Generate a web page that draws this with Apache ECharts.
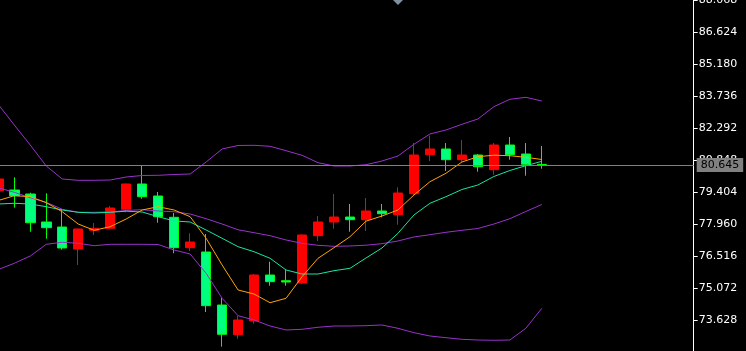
<!DOCTYPE html>
<html>
<head>
<meta charset="utf-8">
<script src="https://cdn.jsdelivr.net/npm/echarts@6/dist/echarts.min.js"></script>
<style>
html,body{margin:0;padding:0;background:#000;}
#chart{width:746px;height:351px;}
</style>
</head>
<body>
<div id="chart"></div>
<script>
// ---- data ----
const categories = ['1','2','3','4','5','6','7','8','9','10','11','12','13','14','15','16','17','18','19','20','21','22','23','24','25','26','27','28','29','30','31','32','33','34','35'];
const emptySlots = 9; // chart shift space on the right
const opens  = [79.476,79.508,79.327,78.064,77.838,76.845,77.689,77.779,78.637,79.779,79.237,78.276,76.904,76.710,74.318,72.978,73.596,75.672,75.415,75.311,77.446,78.064,78.289,78.168,78.560,78.393,79.341,81.101,81.358,80.875,81.087,80.424,81.538,81.132,80.660];
const closes = [80.004,79.251,78.032,77.807,76.891,77.748,77.779,78.696,79.779,79.206,78.303,76.904,77.161,74.287,72.996,73.642,75.672,75.370,75.356,77.477,78.064,78.289,78.168,78.560,78.438,79.372,81.087,81.358,80.875,81.087,80.559,81.538,81.101,80.668,80.645];
const lows   = [79.370,78.709,77.626,77.310,76.814,76.124,77.477,77.734,78.501,79.115,78.032,76.651,76.755,74.002,72.437,72.798,73.475,75.189,75.189,75.280,77.206,77.761,77.626,77.658,78.276,77.942,79.251,80.816,80.365,80.740,80.334,80.198,80.875,80.153,80.469];
const highs  = [80.090,80.081,79.386,79.359,78.637,77.761,78.019,78.786,79.801,80.591,79.418,78.470,77.554,77.522,74.634,73.836,75.717,76.272,75.911,77.500,78.335,79.327,78.876,79.147,78.876,79.630,81.629,81.958,81.629,81.764,81.132,81.629,81.899,81.629,81.493];
const maFast = [79.034,79.251,79.205,78.935,78.528,77.973,77.689,77.851,78.199,78.605,78.754,78.605,78.303,77.328,76.123,74.995,74.814,74.422,74.621,75.595,76.426,76.904,77.400,78.100,78.334,78.605,79.282,79.882,80.261,80.771,81.010,81.078,81.056,80.983,80.884];
const maSlow = [78.876,78.908,78.876,78.754,78.605,78.501,78.470,78.501,78.551,78.515,78.303,78.109,78.064,77.703,77.328,76.949,76.723,76.426,75.898,75.717,75.717,75.866,75.974,76.439,76.890,77.554,78.380,78.908,79.205,79.530,79.733,80.117,80.388,80.604,80.803];
const bandUpper = [83.366,82.441,81.538,80.591,80.004,79.945,79.945,79.959,80.094,80.162,80.171,80.207,80.230,80.771,81.358,81.516,81.525,81.480,81.281,81.074,80.740,80.591,80.591,80.649,80.816,81.042,81.570,82.035,82.215,82.472,82.712,83.267,83.601,83.691,83.524];
const bandMiddle = [79.607,79.404,79.160,78.953,78.637,78.501,78.501,78.515,78.583,78.619,78.560,78.528,78.425,78.213,77.973,77.712,77.581,77.446,77.252,77.103,77.012,76.967,76.981,77.017,77.085,77.207,77.387,77.491,77.599,77.689,77.770,77.973,78.213,78.538,78.853];
const bandLower = [75.920,76.200,76.530,77.058,77.148,77.103,76.994,77.058,77.058,77.058,77.049,76.800,76.620,75.749,74.621,73.836,73.642,73.371,73.191,73.222,73.313,73.371,73.371,73.385,73.416,73.267,73.069,72.920,72.843,72.771,72.739,72.726,72.739,73.267,74.170];
const yTicks = [73.628,75.072,76.516,77.960,79.404,80.848,82.292,83.736,85.180,86.624,88.068];
const currentPrice = 80.645;
const yMin = 72.184, yMax = 88.068;

// ---- build ----
const axisCategories = categories.concat(Array.from({length: emptySlots}, (_, i) => 'pad' + i));
const candles = opens.map((o, i) => [o, closes[i], lows[i], highs[i]]);

const purple = '#9932CC';
function lineSeries(name, data, color) {
  return {
    name, type: 'line', data, symbol: 'none', silent: true,
    lineStyle: { width: 1, color }, itemStyle: { color }, z: 3
  };
}

const chart = echarts.init(document.getElementById('chart'), null, { renderer: 'canvas' });
chart.setOption({
  backgroundColor: '#000000',
  animation: false,
  grid: { left: -9.7, right: 52.3, top: 0.3, bottom: -1.3, containLabel: false, outerBoundsMode: 'none' },
  xAxis: {
    type: 'category', data: axisCategories, boundaryGap: true,
    axisLine: { show: false }, axisTick: { show: false }, axisLabel: { show: false }, splitLine: { show: false }
  },
  yAxis: {
    type: 'value', position: 'right', min: yMin, max: yMax, scale: true,
    axisLine: { show: true, lineStyle: { color: '#ffffff', width: 1 } },
    axisTick: { show: true, length: 4, lineStyle: { color: '#ffffff' }, customValues: yTicks },
    axisLabel: {
      show: true, color: '#ffffff', fontFamily: 'DejaVu Sans', fontSize: 11, margin: 5,
      customValues: yTicks, formatter: v => v.toFixed(3)
    },
    splitLine: { show: false }
  },
  series: [
    {
      name: 'price', type: 'candlestick', data: candles, barWidth: 10, z: 2,
      itemStyle: {
        color: '#FF0000', color0: '#00FF7F',
        borderColor: '#FF0000', borderColor0: '#00FF00', borderWidth: 1
      },
      markLine: {
        silent: true, symbol: ['none', 'none'],
        lineStyle: { color: '#808080', width: 1, type: 'solid' },
        label: {
          show: true, position: 'end', distance: 3,
          formatter: () => currentPrice.toFixed(3),
          color: '#000000', backgroundColor: '#808080',
          fontFamily: 'DejaVu Sans', fontSize: 11, lineHeight: 13, padding: [1, 4, 0, 4]
        },
        data: [{ yAxis: currentPrice }]
      }
    },
    lineSeries('upper', bandUpper, purple),
    lineSeries('middle', bandMiddle, purple),
    lineSeries('lower', bandLower, purple),
    lineSeries('slow', maSlow, '#19E6A0'),
    lineSeries('fast', maFast, '#FFA500')
  ],
  graphic: [{
    type: 'polygon', silent: true,
    shape: { points: [[393, 0], [403, 0], [398, 5]] },
    style: { fill: '#8090A0' }
  }]
});
</script>
</body>
</html>
